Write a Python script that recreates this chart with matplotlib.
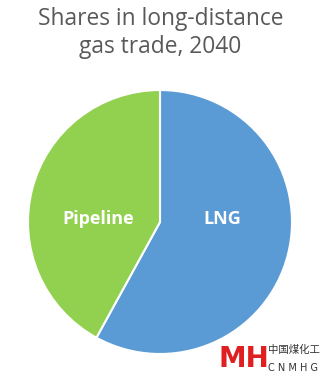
import matplotlib
matplotlib.use("Agg")
import matplotlib.pyplot as plt

categories = ["LNG", "Pipeline"]
shares = [58, 42]
colors = ["#5B9BD5", "#92D050"]
title = "Shares in long-distance\ngas trade, 2040"

W, H = 321, 379
fig = plt.figure(figsize=(W/100, H/100), dpi=100)
fig.patch.set_facecolor("white")

cx, cy, r = 160, 222, 132
ax = fig.add_axes([(cx-r)/W, (H-cy-r)/H, 2*r/W, 2*r/H])
wedges, texts = ax.pie(shares, colors=colors, startangle=90, counterclock=False,
                       wedgeprops=dict(edgecolor="white", linewidth=1.5),
                       labels=categories, labeldistance=0.47,
                       textprops=dict(color="white", fontsize=13, fontweight="bold",
                                      family="Open Sans", ha="center", va="center"))
texts[0].set_position((0.47, 0.02))
texts[1].set_position((-0.47, 0.02))
ax.set_xlim(-1, 1); ax.set_ylim(-1, 1)
ax.set_aspect("equal")
ax.axis("off")

fig.text(0.5, 1 - 33/H, title, ha="center", va="center", fontsize=16.4,
         color="#595959", family="Open Sans", linespacing=1.2)

# watermark logo
fig.text(244/W, 1 - 359/H, "MH", ha="center", va="center", fontsize=20,
         color="#E02020", fontweight="bold", family="DejaVu Sans")
fig.text(268/W, 1 - 350/H, "中国煤化工", ha="left", va="center", fontsize=7.5,
         color="#333333", family=["Noto Sans CJK SC", "DejaVu Sans"])
fig.text(268/W, 1 - 368/H, "C N M H G", ha="left", va="center", fontsize=7,
         color="#333333", family="DejaVu Sans")

fig.savefig("out.png", dpi=100)
